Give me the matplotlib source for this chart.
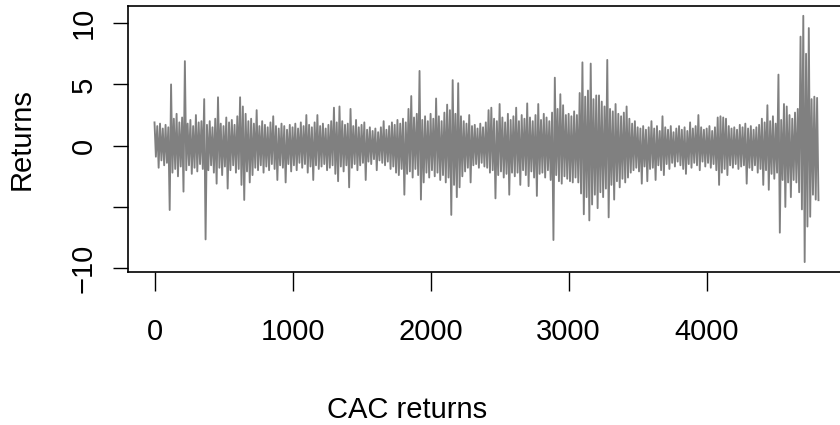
import numpy as np
import matplotlib
matplotlib.use("Agg")
from matplotlib import pyplot as plt

plt.rcParams['font.family'] = ['Liberation Sans', 'DejaVu Sans']

# CAC daily returns: upper and lower swing of the
# series every 20 observations (lower swing sits 10 observations later)
step = 20
upper = [
    1.9, 1.6, 1.8, 1.4, 1.7, 1.5, 5.0, 2.2, 2.6, 1.9,
    2.3, 6.9, 1.8, 2.1, 1.6, 2.5, 1.9, 2.0, 3.8, 1.7,
    2.0, 1.5, 2.2, 3.95, 1.8, 1.6, 2.3, 1.9, 2.1, 1.7,
    2.4, 3.95, 3.2, 2.6, 2.0, 2.2, 1.8, 2.9, 1.6, 2.0,
    1.7, 1.5, 1.9, 2.4, 1.6, 1.4, 1.8, 1.6, 1.3, 1.7,
    1.5, 1.8, 1.4, 1.9, 1.6, 2.5, 1.7, 1.5, 1.9, 2.5,
    1.6, 1.8, 1.4, 1.7, 2.0, 3.1, 1.9, 3.2, 2.0, 1.7,
    1.8, 3.0, 1.6, 2.1, 1.5, 1.7, 1.9, 1.3, 1.5, 1.2,
    1.4, 1.1, 1.5, 2.0, 1.3, 1.6, 1.9, 1.7, 2.1, 1.8,
    2.2, 1.9, 3.0, 4.05, 2.3, 2.6, 6.1, 2.1, 2.4, 2.0,
    2.6, 2.2, 3.85, 2.4, 2.0, 2.7, 3.35, 2.9, 5.35, 2.6,
    5.1, 2.4, 2.0, 1.8, 2.5, 1.6, 1.7, 1.4, 1.8, 1.5,
    1.9, 2.9, 3.1, 2.2, 2.0, 3.4, 2.3, 1.9, 2.6, 2.1,
    2.4, 3.1, 2.0, 2.5, 2.2, 3.45, 2.3, 2.0, 2.5, 3.4,
    2.1, 2.6, 2.3, 2.0, 2.7, 5.55, 3.0, 4.2, 3.3, 2.5,
    2.6, 2.4, 2.8, 2.5, 4.3, 6.8, 4.0, 4.5, 6.7, 3.8,
    4.1, 4.1, 3.6, 3.2, 7.0, 3.0, 2.8, 3.4, 2.6, 2.4,
    2.7, 3.2, 2.2, 1.8, 2.0, 1.5, 1.4, 1.6, 1.3, 1.5,
    2.0, 1.4, 1.6, 1.2, 2.4, 1.5, 1.3, 1.6, 1.1, 1.4,
    1.6, 1.3, 1.5, 1.2, 1.9, 1.4, 1.6, 2.5, 1.5, 1.3,
    1.4, 1.6, 1.2, 1.5, 2.3, 2.4, 2.3, 2.2, 1.6, 1.4,
    1.5, 1.3, 1.7, 1.5, 1.8, 1.4, 1.6, 1.3, 1.5, 1.7,
    2.2, 1.9, 3.3, 2.0, 2.4, 1.8, 5.8, 2.1, 3.4, 3.2,
    2.5, 2.2, 2.7, 3.0, 8.9, 10.6, 7.5, 9.6, 3.8, 4.0,
    3.9,
]
lower = [
    -0.9, -1.8, -1.2, -1.6, -1.4, -5.25, -2.2, -1.9, -2.5, -1.7,
    -3.75, -2.0, -1.6, -2.3, -1.8, -2.1, -1.5, -1.9, -7.65, -2.0,
    -1.6, -2.2, -3.1, -1.8, -2.4, -1.7, -3.5, -2.0, -1.6, -2.2,
    -1.9, -3.2, -4.43, -2.1, -3.0, -2.4, -1.8, -2.0, -1.6, -2.2,
    -1.7, -2.0, -1.5, -1.9, -2.8, -1.6, -1.8, -3.0, -1.5, -2.1,
    -1.6, -2.0, -1.4, -1.8, -1.5, -2.2, -1.7, -2.8, -1.6, -1.9,
    -1.7, -1.5, -2.0, -1.8, -1.6, -2.3, -2.9, -1.7, -2.1, -1.6,
    -3.4, -1.8, -1.5, -2.0, -1.6, -1.4, -2.8, -1.3, -1.5, -1.1,
    -2.0, -1.2, -1.4, -1.6, -1.3, -1.9, -1.7, -2.2, -2.4, -1.9,
    -4.0, -2.3, -2.1, -2.6, -1.9, -2.4, -4.4, -3.0, -2.2, -2.6,
    -2.0, -2.5, -2.2, -2.8, -2.4, -3.0, -2.6, -5.65, -3.2, -4.2,
    -3.4, -2.5, -2.1, -1.8, -3.0, -1.6, -1.5, -1.8, -1.4, -1.7,
    -1.8, -2.2, -2.0, -4.3, -2.4, -2.1, -2.6, -2.3, -4.0, -2.2,
    -2.5, -2.2, -3.2, -2.0, -2.4, -3.3, -2.1, -2.6, -4.1, -2.3,
    -2.2, -2.6, -2.0, -2.8, -7.7, -2.4, -2.9, -3.1, -2.5, -2.7,
    -2.9, -3.0, -2.6, -3.0, -3.9, -5.6, -4.2, -6.1, -4.8, -4.0,
    -5.1, -3.8, -4.2, -3.5, -5.85, -3.2, -4.4, -2.9, -3.4, -2.7,
    -3.0, -2.6, -2.2, -2.0, -1.8, -2.1, -3.1, -1.7, -2.9, -1.9,
    -1.8, -2.8, -1.6, -2.0, -2.4, -1.5, -1.9, -1.4, -1.7, -1.3,
    -1.6, -1.9, -2.3, -1.5, -1.8, -1.4, -1.6, -2.0, -1.3, -1.7,
    -1.4, -1.8, -1.5, -2.0, -3.2, -2.2, -1.9, -2.4, -1.6, -1.8,
    -1.5, -1.9, -1.7, -1.6, -3.1, -1.8, -2.0, -1.6, -2.2, -1.9,
    -3.2, -2.0, -3.6, -2.3, -2.7, -2.2, -7.1, -2.8, -5.0, -3.0,
    -4.2, -2.8, -3.0, -3.8, -5.2, -9.5, -6.6, -5.8, -4.0, -4.4,
    -4.45,
]
xticks = [0, 1000, 2000, 3000, 4000]
yticks = [-10, -5, 0, 5, 10]
ylabels = ['\u221210', '', '0', '5', '10']   # R drops the -5 label (no room)

t_up = np.arange(len(upper)) * step
t_lo = t_up + step // 2
x = np.empty(2 * len(upper))
y = np.empty(2 * len(upper))
x[0::2], x[1::2] = t_up, t_lo
y[0::2], y[1::2] = upper, lower

fig = plt.figure(figsize=(8.4, 4.25), dpi=100)
W, H = 840, 425
ax = fig.add_axes([128 / W, 1 - 272 / H, (843.6 - 128) / W, (272 - 6) / H])
ax.plot(x, y, color='#808080', lw=1.35)

ax.set_xlim(-192, 4992)
ax.set_ylim(-10.31, 11.40)
ax.set_xticks(xticks)
ax.set_yticks(yticks)
ax.set_xticklabels([str(v) for v in xticks])
ax.set_yticklabels(ylabels, rotation=90, va='center')
for s in ax.spines.values():
    s.set_linewidth(1.2)
ax.tick_params(axis='x', length=13.5, width=1.0, pad=19.5, labelsize=21)
ax.tick_params(axis='y', length=10.8, width=1.0, pad=10.8, labelsize=21)

fig.text(21.8 / W, 1 - 139 / H, "Returns", rotation=90, ha='center', va='center', fontsize=21)
fig.text(407 / W, 1 - 418 / H, "CAC returns", ha='center', va='baseline', fontsize=21)

fig.savefig("out.png", dpi=100)
